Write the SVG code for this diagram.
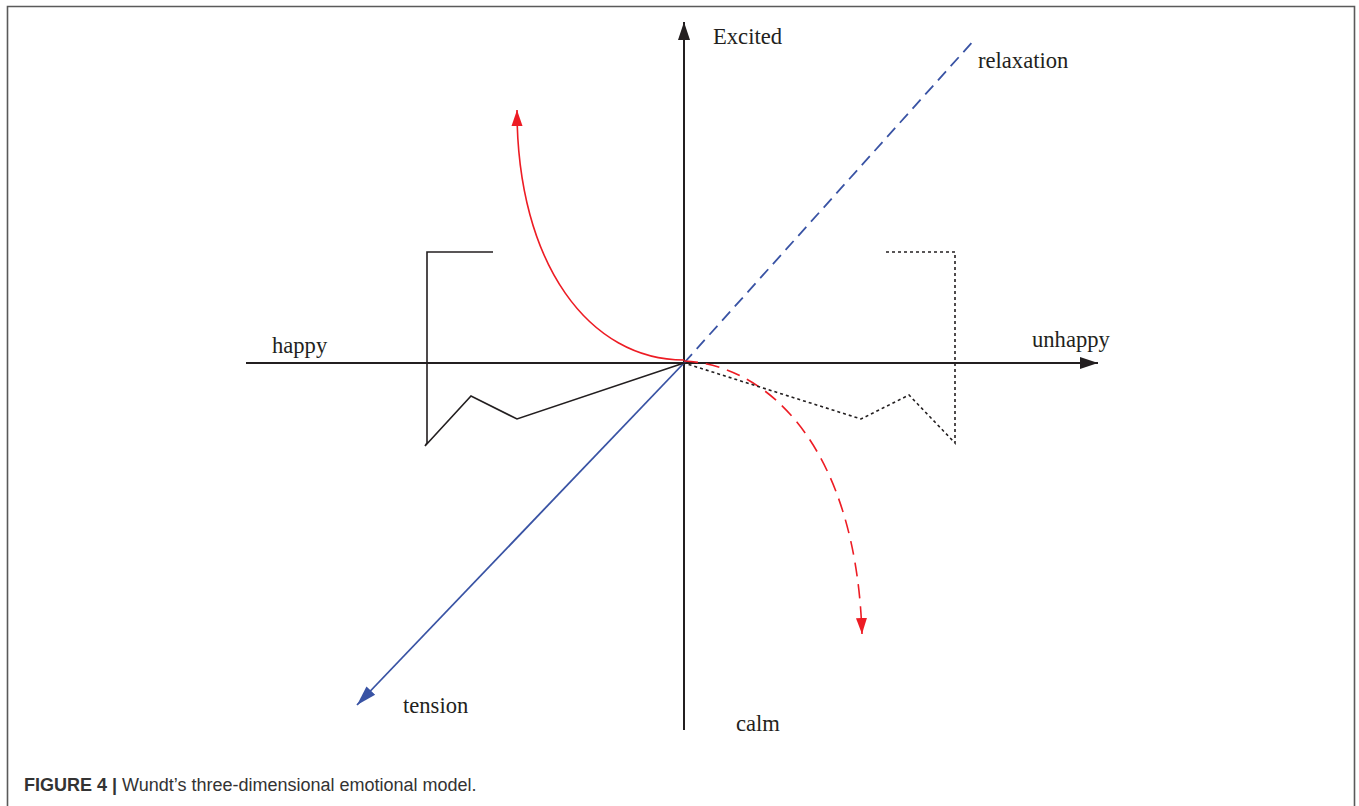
<svg xmlns="http://www.w3.org/2000/svg" width="1359" height="806" viewBox="0 0 1359 806">
<defs>
<style>
.lbl{font-family:"Liberation Serif","Times New Roman",serif;font-size:22.6px;fill:#231f20}
.cap{font-family:"Liberation Sans",Arial,sans-serif;font-size:18px;fill:#333}
.ax{stroke:#231f20;stroke-width:2;fill:none}
.blk{stroke:#231f20;stroke-width:1.6;fill:none}
.dot{stroke:#231f20;stroke-width:1.6;fill:none;stroke-dasharray:3 3}
.red{stroke:#ed1c24;stroke-width:1.6;fill:none}
.redd{stroke:#ed1c24;stroke-width:1.6;fill:none;stroke-dasharray:14 8}
.blue{stroke:#3953a4;stroke-width:1.8;fill:none}
.blued{stroke:#3953a4;stroke-width:1.8;fill:none;stroke-dasharray:12 7}
</style>
<marker id="ak" markerUnits="userSpaceOnUse" markerWidth="20" markerHeight="14" refX="18" refY="7" orient="auto" viewBox="0 0 20 14"><path d="M0,1 L18,7 L0,13 Z" fill="#231f20"/></marker>
<marker id="ar" markerUnits="userSpaceOnUse" markerWidth="18" markerHeight="12" refX="16" refY="6" orient="auto" viewBox="0 0 18 12"><path d="M0,0.5 L16,6 L0,11.5 Z" fill="#ed1c24"/></marker>
<marker id="ab" markerUnits="userSpaceOnUse" markerWidth="22" markerHeight="14" refX="20" refY="7" orient="auto" viewBox="0 0 22 14"><path d="M0,1 L20,7 L0,13 Z" fill="#3953a4"/></marker>
</defs>
<rect width="1359" height="806" fill="#fff"/>
<path d="M7.5,806 V6.5 H1354.5 V806" fill="none" stroke="#5a5a5a" stroke-width="1.6"/>
<g id="connectors">
<line class="ax" x1="246" y1="363" x2="1098" y2="363" marker-end="url(#ak)"/>
<line class="ax" x1="684" y1="730" x2="684" y2="22" marker-end="url(#ak)"/>
<line class="blued" x1="684" y1="363" x2="976" y2="38"/>
<line class="blue" x1="684" y1="363" x2="357" y2="705" marker-end="url(#ab)"/>
<path class="red" d="M684,360 C590,360 517,265 517,110" marker-end="url(#ar)"/>
<path class="redd" d="M684,361 C770,365 856,450 862,634" marker-end="url(#ar)"/>
<polyline class="blk" points="493,252 427,252 427,443 425,446 471,396 517,419 684,363"/>
<polyline class="dot" points="886,252 955,252 955,443 909,395 861,419 684,363"/>
</g>
<g id="excited"><text class="lbl" x="713" y="44">Excited</text></g>
<g id="relaxation"><text class="lbl" x="978" y="68">relaxation</text></g>
<g id="happy"><text class="lbl" x="272" y="353">happy</text></g>
<g id="unhappy"><text class="lbl" x="1032" y="347">unhappy</text></g>
<g id="tension"><text class="lbl" x="403" y="713">tension</text></g>
<g id="calm"><text class="lbl" x="736" y="731">calm</text></g>
<g id="caption"><text class="cap" x="24" y="791"><tspan font-weight="bold">FIGURE 4 |</tspan> Wundt’s three-dimensional emotional model.</text></g>
</svg>
